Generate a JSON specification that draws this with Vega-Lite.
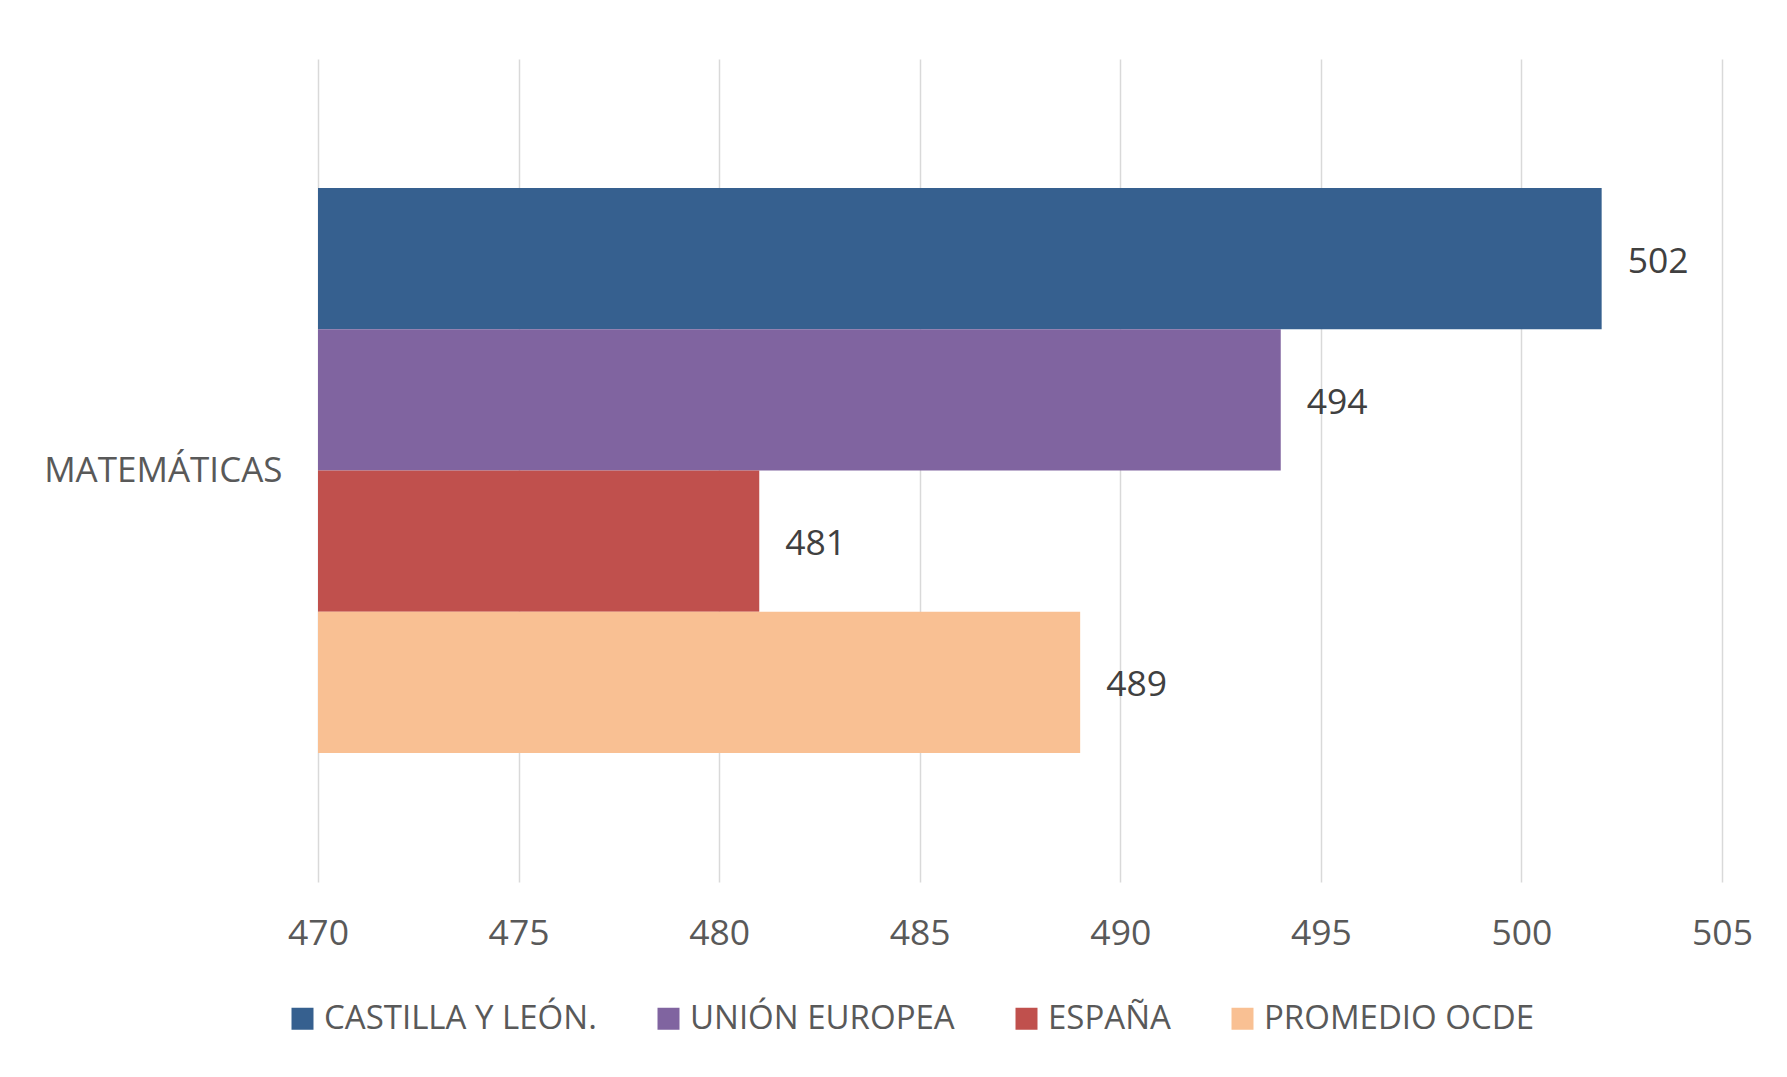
{
  "$schema": "https://vega.github.io/schema/vega-lite/v6.json",
  "autosize": {"type": "none"},
  "width": 1404,
  "height": 823,
  "padding": {"left": 318, "top": 59, "right": 65, "bottom": 195},
  "background": "white",
  "config": {
    "view": {"stroke": null},
    "font": "Open Sans"
  },
  "data": {
    "values": [
      {"subject": "MATEMÁTICAS", "series": "CASTILLA Y LEÓN.", "score": 502},
      {"subject": "MATEMÁTICAS", "series": "UNIÓN EUROPEA", "score": 494},
      {"subject": "MATEMÁTICAS", "series": "ESPAÑA", "score": 481},
      {"subject": "MATEMÁTICAS", "series": "PROMEDIO OCDE", "score": 489}
    ]
  },
  "encoding": {
    "y": {
      "field": "subject",
      "type": "nominal",
      "title": null,
      "scale": {"paddingInner": 0, "paddingOuter": 0.2283},
      "axis": {
        "domain": false,
        "ticks": false,
        "labelFontSize": 35,
        "labelColor": "#595959",
        "labelPadding": 36,
        "labelLimit": 0,
        "labelFont": "Open Sans"
      }
    },
    "yOffset": {
      "field": "series",
      "type": "nominal",
      "sort": ["CASTILLA Y LEÓN.", "UNIÓN EUROPEA", "ESPAÑA", "PROMEDIO OCDE"],
      "scale": {"paddingInner": 0, "paddingOuter": 0}
    },
    "x": {
      "field": "score",
      "type": "quantitative",
      "title": null,
      "scale": {"domain": [470, 505], "zero": false, "nice": false},
      "axis": {
        "values": [470, 475, 480, 485, 490, 495, 500, 505],
        "domain": false,
        "ticks": false,
        "grid": true,
        "gridColor": "#d9d9d9",
        "gridWidth": 1.5,
        "labelFlush": false,
        "labelFontSize": 35.5,
        "labelColor": "#595959",
        "labelPadding": 34,
        "labelFont": "Open Sans"
      }
    }
  },
  "layer": [
    {
      "mark": {"type": "bar"},
      "encoding": {
        "x2": {"datum": 470},
        "color": {
          "field": "series",
          "type": "nominal",
          "scale": {
            "domain": ["CASTILLA Y LEÓN.", "UNIÓN EUROPEA", "ESPAÑA", "PROMEDIO OCDE"],
            "range": ["#36608f", "#8064a0", "#c0504d", "#f9c093"]
          },
          "legend": {
            "title": null,
            "orient": "none",
            "direction": "horizontal",
            "columns": 4,
            "legendX": -32,
            "legendY": 943,
            "symbolType": "square",
            "symbolSize": 484,
            "symbolStrokeWidth": 0,
            "symbolOpacity": 1,
            "labelFontSize": 33,
            "labelColor": "#595959",
            "labelOffset": 5,
            "labelLimit": 0,
            "labelFont": "Open Sans",
            "columnPadding": 55
          }
        }
      }
    },
    {
      "mark": {
        "type": "text",
        "align": "left",
        "baseline": "middle",
        "dx": 26,
        "dy": 3,
        "fontSize": 35.5,
        "color": "#404040",
        "font": "Open Sans"
      },
      "encoding": {
        "text": {"field": "score", "type": "quantitative"}
      }
    }
  ]
}
